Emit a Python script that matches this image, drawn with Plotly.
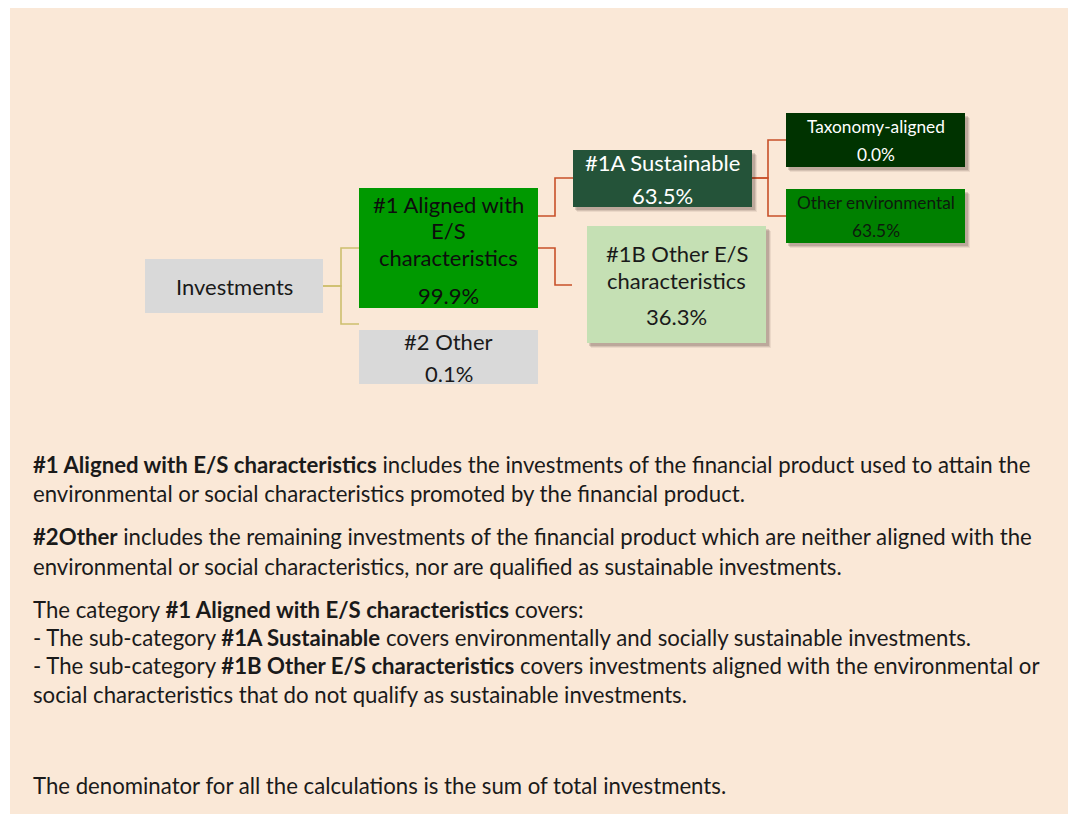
import plotly.graph_objects as go

# ---- data ----
node_ids = ["inv", "al", "oth", "sus", "oes", "tax", "env"]
node_labels = ["Investments", "#1 Aligned with<br>E/S<br>characteristics", "#2 Other",
               "#1A Sustainable", "#1B Other E/S<br>characteristics",
               "Taxonomy-aligned", "Other environmental"]
node_values = ["", "99.9%", "0.1%", "63.5%", "36.3%", "0.0%", "63.5%"]
edges = [("inv", "al"), ("inv", "oth"), ("al", "sus"), ("al", "oes"), ("sus", "tax"), ("sus", "env")]

para_lines = [
    [("b", "#1 Aligned with E/S characteristics"), ("n", " includes the investments of the financial product used to attain the")],
    [("n", "environmental or social characteristics promoted by the financial product.")],
    [("b", "#2Other"), ("n", " includes the remaining investments of the financial product which are neither aligned with the")],
    [("n", "environmental or social characteristics, nor are qualified as sustainable investments.")],
    [("n", "The category "), ("b", "#1 Aligned with E/S characteristics"), ("n", " covers:")],
    [("n", "- The sub-category "), ("b", "#1A Sustainable"), ("n", " covers environmentally and socially sustainable investments.")],
    [("n", "- The sub-category "), ("b", "#1B Other E/S characteristics"), ("n", " covers investments aligned with the environmental or")],
    [("n", "social characteristics that do not qualify as sustainable investments.")],
    [("n", "The denominator for all the calculations is the sum of total investments.")],
]

# ---- layout / style ----
W, H = 1068, 814
BG = "#FAE8D7"
FONT = "Lato"
box = {  # x0, y0, x1, y1 (pixels)
    "inv": (145, 259, 323, 313),
    "al": (359, 188, 538, 308),
    "oth": (359, 330, 538, 384),
    "sus": (573, 150, 752, 207),
    "oes": (587, 226, 766, 343),
    "tax": (786, 113, 965, 167),
    "env": (786, 189, 965, 243),
}
fill = {"inv": "#D9D9D9", "al": "#009900", "oth": "#D9D9D9", "sus": "#245339",
        "oes": "#C5E0B4", "tax": "#003300", "env": "#008000"}
tcol = {"inv": "#1A1A1A", "al": "#0D0D0D", "oth": "#1A1A1A", "sus": "#FFFFFF",
        "oes": "#1A1A1A", "tax": "#FFFFFF", "env": "#0D1A0D"}
fsize = {"inv": 22, "al": 22, "oth": 22, "sus": 22, "oes": 22, "tax": 17.3, "env": 17.3}
label_y0 = {"inv": 286, "al": 204, "oth": 341, "sus": 162, "oes": 253, "tax": 126, "env": 202}
line_gap = {"al": 26.5, "oes": 27}
value_y = {"al": 295, "oth": 373, "sus": 195, "oes": 316, "tax": 154, "env": 230}
shadow = {"sus", "oes", "tax", "env"}
edge_color = {"inv": "#CDBF6E", "al": "#C8502A", "sus": "#C8502A"}
edge_geom = {  # (parent y, elbow x, child y, child x end)
    ("inv", "al"): (286, 341, 248, 359),
    ("inv", "oth"): (286, 341, 324, 359),
    ("al", "sus"): (216, 555, 178, 573),
    ("al", "oes"): (248, 555, 285, 572),
    ("sus", "tax"): (178, 768, 140, 786),
    ("sus", "env"): (178, 768, 216, 786),
}
para_y = [464, 493, 536, 566, 609, 637, 665, 694, 785]
PARA_SIZE = 22.2

fig = go.Figure()
shapes = [dict(type="rect", xref="x", yref="y", x0=10, y0=8, x1=W + 2, y1=H + 2,
               fillcolor=BG, line=dict(width=0), layer="below")]

for (p, c) in edges:
    py, ex, cy, cx = edge_geom[(p, c)]
    px = box[p][2]
    shapes.append(dict(type="path", xref="x", yref="y",
                       path=f"M {px},{py} L {ex},{py} L {ex},{cy} L {cx},{cy}",
                       line=dict(color=edge_color[p], width=1.6)))

annotations = []
for nid, lab, val in zip(node_ids, node_labels, node_values):
    x0, y0, x1, y1 = box[nid]
    if nid in shadow:
        for off, a in [(5, 0.08), (4, 0.12), (3, 0.16)]:
            shapes.append(dict(type="rect", xref="x", yref="y", x0=x0 + off - 1, y0=y0 + off,
                               x1=x1 + off, y1=y1 + off, fillcolor=f"rgba(60,40,30,{a})",
                               line=dict(width=0)))
    shapes.append(dict(type="rect", xref="x", yref="y", x0=x0, y0=y0, x1=x1, y1=y1,
                       fillcolor=fill[nid], line=dict(width=0)))
    cxm = (x0 + x1) / 2
    for i, line in enumerate(lab.split("<br>")):
        annotations.append(dict(x=cxm, y=label_y0[nid] + i * line_gap.get(nid, 0), xref="x", yref="y",
                                text=line, showarrow=False, xanchor="center", yanchor="middle",
                                font=dict(family=FONT, size=fsize[nid], color=tcol[nid])))
    if val:
        annotations.append(dict(x=cxm, y=value_y[nid], xref="x", yref="y", text=val,
                                showarrow=False, xanchor="center", yanchor="middle",
                                font=dict(family=FONT, size=fsize[nid], color=tcol[nid])))

for parts, y in zip(para_lines, para_y):
    txt = "".join(f"<b>{t}</b>" if k == "b" else t for k, t in parts)
    annotations.append(dict(x=31, y=y, xref="x", yref="y", text=txt, showarrow=False,
                            xanchor="left", yanchor="middle", align="left",
                            font=dict(family=FONT, size=PARA_SIZE, color="#1A1A1A")))

fig.update_layout(
    width=W, height=H, margin=dict(l=0, r=0, t=0, b=0),
    paper_bgcolor="white", plot_bgcolor="white",
    xaxis=dict(range=[0, W], visible=False, fixedrange=True),
    yaxis=dict(range=[H, 0], visible=False, fixedrange=True),
    shapes=shapes, annotations=annotations, showlegend=False,
)
fig.write_html("out.html", config={"displayModeBar": False},
               post_script="document.body.style.margin='0';document.body.style.overflow='hidden';")
